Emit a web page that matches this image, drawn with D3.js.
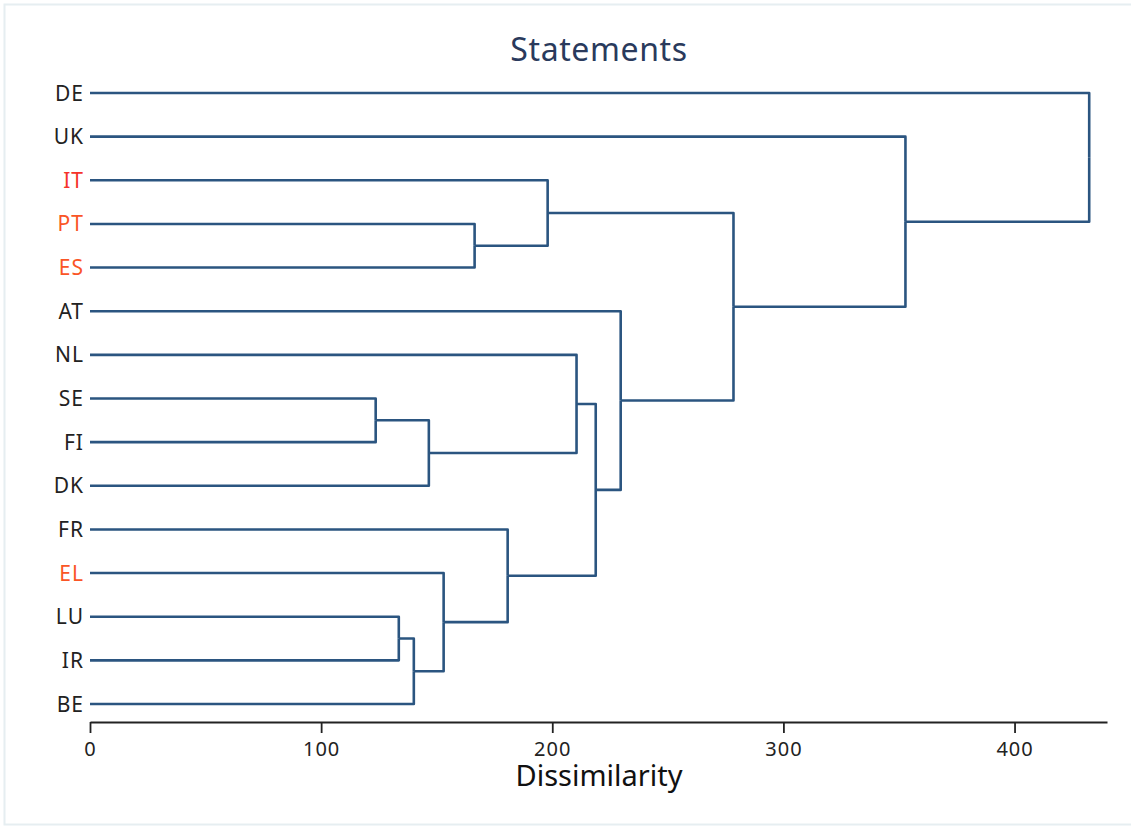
<!DOCTYPE html>
<html>
<head>
<meta charset="utf-8">
<script src="https://cdn.jsdelivr.net/npm/d3@7"></script>
<style>
  html, body { margin: 0; padding: 0; background: #fff; }
  svg { display: block; font-family: "Noto Sans", "Open Sans", sans-serif; }
</style>
</head>
<body>
<svg id="chart" width="1131" height="826"></svg>
<script>
// ---- Data ----
const titleText = "Statements";
const xLabel = "Dissimilarity";
const leaves = ["DE", "UK", "IT", "PT", "ES", "AT", "NL", "SE", "FI", "DK", "FR", "EL", "LU", "IR", "BE"];
const highlighted = ["IT", "PT", "ES", "EL"];
// linkage steps: step i joins linkA[i] and linkB[i] at height linkH[i] into cluster "C" + i
const linkA = ["SE", "LU", "C1", "C0", "EL", "PT", "FR", "IT", "NL", "C8", "AT", "C7", "UK", "DE"];
const linkB = ["FI", "IR", "BE", "DK", "C2", "ES", "C4", "C5", "C3", "C6", "C9", "C10", "C11", "C12"];
const linkH = [123.6, 133.6, 140.1, 146.6, 153.0, 166.4, 180.7, 198.0, 210.5, 218.8, 229.6, 278.4, 352.8, 432.3];
const xTicks = [0, 100, 200, 300, 400];

const svg = d3.select("#chart");
const W = 1131, H = 826;

// frame
svg.append("rect")
  .attr("x", 4.5).attr("y", 4.5)
  .attr("width", W + 10).attr("height", 820)
  .attr("fill", "none").attr("stroke", "#e6eef1").attr("stroke-width", 2);

const x = d3.scaleLinear().domain([0, 440]).range([90, 1107]);
const y = d3.scalePoint().domain(leaves).range([93, 704]);

// build hierarchy
const nodes = {};
leaves.forEach(l => nodes[l] = { name: l, height: 0, children: null });
linkH.forEach((h, i) => {
  nodes["C" + i] = { name: "C" + i, height: h, children: [nodes[linkA[i]], nodes[linkB[i]]] };
});
const root = d3.hierarchy(nodes["C" + (linkH.length - 1)], d => d.children);
root.eachAfter(n => {
  n.px = x(n.data.height);
  n.py = n.children ? d3.mean(n.children, c => c.py) : y(n.data.name);
});

const color = "#2b5580";
const g = svg.append("g");
root.each(n => {
  if (!n.children) return;
  n.children.forEach(c => {
    g.append("path")
      .attr("d", `M${c.px},${c.py}H${n.px}V${n.py}`)
      .attr("fill", "none")
      .attr("stroke", color)
      .attr("stroke-width", 2.6)
      .attr("stroke-linejoin", "round");
  });
});

// leaf labels
svg.append("g").selectAll("text")
  .data(leaves).join("text")
  .attr("x", 84)
  .attr("y", d => y(d))
  .attr("dy", "0.36em")
  .attr("text-anchor", "end")
  .attr("font-size", 21)
  .attr("letter-spacing", 1)
  .attr("fill", d => d === "IT" ? "#f5332a" : (highlighted.includes(d) ? "#fa5526" : "#222"))
  .text(d => d);

// axis
const axis = svg.append("g")
  .attr("transform", "translate(0,722)")
  .call(d3.axisBottom(x).tickValues(xTicks).tickSize(11).tickSizeOuter(0).tickPadding(9));
axis.select(".domain").attr("stroke", "#222").attr("stroke-width", 1.8);
axis.selectAll(".tick line").attr("stroke", "#222").attr("stroke-width", 1.8);
axis.attr("font-size", 20).attr("font-family", "Noto Sans, sans-serif");
axis.selectAll(".tick text")
  .attr("font-size", 20)
  .attr("letter-spacing", 1)
  .attr("fill", "#222");

// x label
svg.append("text")
  .attr("x", 599).attr("y", 786)
  .attr("text-anchor", "middle")
  .attr("font-size", 29)
  .attr("fill", "#111")
  .text(xLabel);

// title
svg.append("text")
  .attr("x", 599).attr("y", 61)
  .attr("text-anchor", "middle")
  .attr("font-size", 32)
  .attr("letter-spacing", 0.6)
  .attr("fill", "#2a3a5c")
  .text(titleText);
</script>
</body>
</html>
